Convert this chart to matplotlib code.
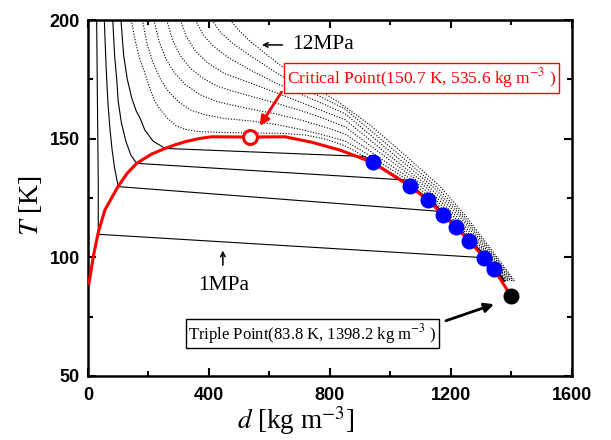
import matplotlib
matplotlib.use("Agg")
import matplotlib.pyplot as plt
from matplotlib.ticker import MultipleLocator

plt.rcParams['mathtext.fontset'] = 'stix'
SERIF = ['Liberation Serif', 'DejaVu Serif']

# saturation curve (vapour side -> critical -> liquid side)
sat_d = [3.3, 17.5, 34, 56, 100, 130, 161, 210, 255, 290, 321, 365, 409, 535.6,
         651, 740, 833, 941, 1064, 1125, 1175, 1217, 1261, 1310, 1343, 1398.2]
sat_T = [89, 100.3, 110.5, 120, 130, 135.5, 139.6, 143.5, 145.9, 147.5, 148.7, 150,
         150.8, 150.7, 150.8, 148.5, 145.2, 140, 130, 124, 117.8, 112.6, 106.9, 99.8,
         94.9, 83.8]

# points on the liquid line
dot_d = [941, 1064, 1125, 1175, 1217, 1261, 1310, 1343]
dot_T = [140, 130, 124, 117.8, 112.6, 106.9, 99.8, 94.9]

crit_d, crit_T = 535.6, 150.7
trip_d, trip_T = 1398.2, 83.8

# subcritical isobars (solid)
p1_d = [28.7, 30.5, 32.5, 34, 34, 1290, 1330, 1372]
p1_T = [200, 175, 150, 130, 109.7, 100.0, 95, 90]
p2_d = [54, 60, 66, 73, 80, 88, 100, 1150, 1182, 1223, 1266, 1314, 1347, 1374]
p2_T = [200, 180, 165, 153.6, 145, 137.6, 129.8, 119.5, 117, 112, 106.5, 100, 95, 90]
p3_d = [82, 88, 95, 100, 110, 125, 142, 161, 1060, 1070, 1131, 1184, 1226, 1268,
        1316, 1349, 1376]
p3_T = [200, 185, 175, 165.7, 157, 149, 143, 139.6, 132.5, 130, 124, 117.5, 112,
        106.5, 100, 95, 90]
p4_d = [109, 118, 130, 145, 160, 172, 188, 215, 255, 915, 945, 1070, 1133, 1186,
        1228, 1270, 1318, 1351, 1378]
p4_T = [200, 185, 175, 167, 161.5, 158.7, 153.6, 149, 145.9, 142.5, 140, 130, 124,
        117.5, 112, 106.5, 100, 95, 90]

# supercritical isobars (dotted)
p5_d = [143, 155, 170, 187, 205, 220, 240, 264, 290, 320, 364, 450, 536, 650, 720,
        780, 840, 880, 1075, 1190, 1318, 1381]
p5_T = [200, 192, 184, 178, 171, 166, 162, 158.5, 155.5, 154, 153, 152.6, 152.4,
        152.2, 151.5, 150, 147.5, 145, 130, 117, 100, 90]
p6_d = [180, 195, 215, 240, 265, 300, 340, 390, 450, 536, 620, 700, 780, 850, 905,
        1088, 1200, 1323, 1385]
p6_T = [200, 190, 182, 175, 170, 165.5, 162, 160, 158.5, 157.5, 156, 154, 151.5,
        149, 145, 130, 117, 100, 90]
p7_d = [218, 235, 258, 285, 320, 370, 430, 536, 620, 700, 780, 850, 930, 1100,
        1210, 1328, 1389]
p7_T = [200, 191, 183.5, 178, 173, 168.5, 165.5, 162.5, 160.5, 158, 155, 152, 145,
        130, 117, 100, 90]
p8_d = [260, 280, 305, 340, 380, 430, 480, 536, 620, 700, 780, 850, 955, 1113,
        1220, 1333, 1393]
p8_T = [200, 191.5, 185, 179.5, 175.5, 172, 170, 168, 165, 162, 158.5, 155, 145,
        130, 117, 100, 90]
p9_d = [305, 325, 355, 395, 450, 536, 620, 700, 780, 850, 975, 1125, 1230, 1338,
        1398]
p9_T = [200, 193, 187, 182, 177.5, 173.5, 169.5, 165.5, 161.5, 158, 145, 130, 117,
        100, 90]
p10_d = [355, 380, 410, 460, 536, 620, 700, 780, 850, 995, 1138, 1238, 1343, 1402]
p10_T = [200, 194, 189.5, 184.5, 179, 173.5, 169, 164.5, 160.5, 145, 130, 117,
         100, 90]
p11_d = [410, 440, 480, 536, 620, 700, 780, 850, 1013, 1150, 1245, 1348, 1407]
p11_T = [200, 194.5, 190, 185, 178, 172, 167, 162.5, 145, 130, 117, 100, 90]
p12_d = [470, 500, 536, 635, 720, 833, 930, 1031, 1163, 1252, 1353, 1411]
p12_T = [200, 195.5, 191, 181, 174, 165, 156, 145, 130, 117, 100, 90]

solid = [(p1_d, p1_T), (p2_d, p2_T), (p3_d, p3_T), (p4_d, p4_T)]
dotted = [(p5_d, p5_T), (p6_d, p6_T), (p7_d, p7_T), (p8_d, p8_T),
          (p9_d, p9_T), (p10_d, p10_T), (p11_d, p11_T), (p12_d, p12_T)]

fig = plt.figure(figsize=(6.11, 4.40), dpi=100)
ax = fig.add_axes([0.144, 0.1455, 0.792, 0.809])

for d, T in solid:
    ax.plot(d, T, color='black', lw=0.8)
for d, T in dotted:
    ax.plot(d, T, color='black', lw=0.8, ls=(0, (1, 1.5)))

ax.plot(sat_d, sat_T, color='red', lw=2.2, zorder=3)
ax.plot(dot_d, dot_T, 'o', color='blue', ms=10.5, mec='blue', zorder=4)
ax.plot([trip_d], [trip_T], 'o', color='black', ms=10.5, zorder=4)
ax.plot([crit_d], [crit_T], 'o', mfc='white', mec='red', mew=2.2, ms=10, zorder=5)

# pressure labels
ax.annotate('', xy=(566, 189.5), xytext=(652, 189.5),
            arrowprops=dict(arrowstyle='->', color='black', lw=1.1, mutation_scale=8))
ax.text(675, 189.5, '12MPa', family=SERIF, fontsize=15.5, ha='left', va='center')
ax.annotate('', xy=(446, 104), xytext=(446, 95.5),
            arrowprops=dict(arrowstyle='->', color='black', lw=1.1, mutation_scale=8))
ax.text(450, 88, '1MPa', family=SERIF, fontsize=15.5, ha='center', va='center')

ax.text(1103, 175.6, 'Critical Point(150.7 K, 535.6 kg m$^{\\mathrm{-3}}$ )',
        family=SERIF, fontsize=12.5, color='red', ha='center', va='center',
        bbox=dict(boxstyle='square,pad=0.15', fc='white', ec='red', lw=1))
ax.annotate('', xy=(563, 154.4), xytext=(645, 170.6),
            arrowprops=dict(arrowstyle='-|>', color='red', lw=2, mutation_scale=14))

ax.text(742, 67.7, 'Triple Point(83.8 K, 1398.2 kg m$^{\\mathrm{-3}}$ )',
        family=SERIF, fontsize=12, color='black', ha='center', va='center',
        bbox=dict(boxstyle='square,pad=0.15', fc='white', ec='black', lw=1))
ax.annotate('', xy=(1351, 80.6), xytext=(1175, 72.9),
            arrowprops=dict(arrowstyle='-|>', color='black', lw=2, mutation_scale=14))

ax.set_xlim(0, 1600)
ax.set_ylim(50, 200)
ax.xaxis.set_major_locator(MultipleLocator(400))
ax.xaxis.set_minor_locator(MultipleLocator(200))
ax.yaxis.set_major_locator(MultipleLocator(50))
ax.yaxis.set_minor_locator(MultipleLocator(25))
ax.tick_params(which='both', direction='in', top=True, right=True, width=1.5)
ax.tick_params(which='major', length=6)
ax.tick_params(which='minor', length=3.5)
ax.tick_params(axis='x', pad=8)
ax.tick_params(axis='y', pad=6)
for lab in ax.get_xticklabels() + ax.get_yticklabels():
    lab.set_family('Liberation Sans')
    lab.set_fontweight('bold')
    lab.set_fontsize(13)
for sp in ax.spines.values():
    sp.set_linewidth(1.8)

ax.set_xlabel('$d$ [kg m$^{\\mathrm{-3}}$]', family=SERIF, fontsize=19.5)
ax.set_ylabel('$T$ [K]', family=SERIF, fontsize=20)
ax.xaxis.set_label_coords(0.43, -0.078)
ax.yaxis.set_label_coords(-0.09, 0.48)

fig.savefig('out.png', dpi=100)
